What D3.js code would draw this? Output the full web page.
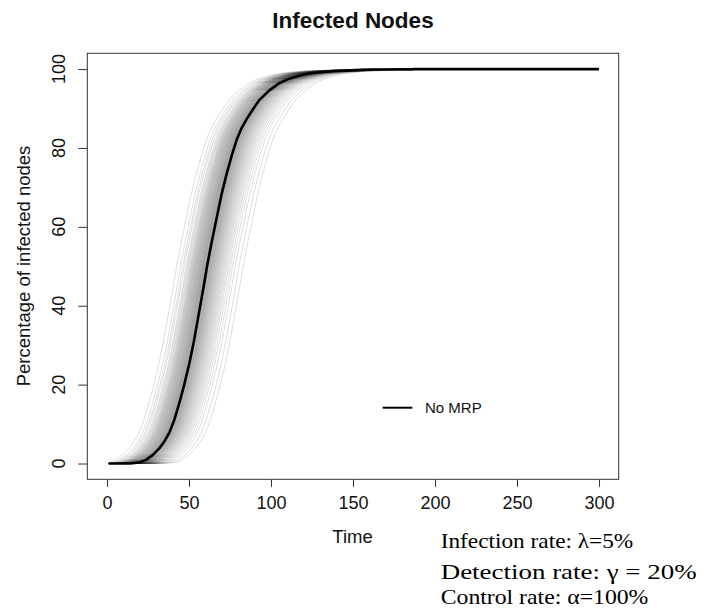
<!DOCTYPE html>
<html><head><meta charset="utf-8">
<script src="https://cdn.jsdelivr.net/npm/d3@7"></script>
<style>body{margin:0;background:#fff}svg{display:block}</style>
</head><body>
<script>
// ---- data ----
const title = "Infected Nodes";
const xLabel = "Time";
const yLabel = "Percentage of infected nodes";
const xTicks = [0, 50, 100, 150, 200, 250, 300];
const yTicks = [0, 20, 40, 60, 80, 100];
const legendLabel = "No MRP";
const notes = ["Infection rate: \u03bb=5%", "Detection rate: \u03b3 = 20%", "Control rate: \u03b1=100%"];

// mean curve (black)
const meanTime  = [1, 14, 20, 24, 28, 32, 35, 38, 41, 44, 47, 50, 53, 56, 59, 61, 64, 67, 70, 73, 76, 79, 82, 85, 89, 93, 99, 105, 110, 116, 122, 130, 138, 146, 155, 162, 186, 187, 300];
const meanValue = [0, 0, 0.3, 1.0, 2.2, 3.9, 5.6, 7.8, 11.0, 15.2, 19.8, 25.0, 31.0, 38.0, 45.0, 50.0, 56.5, 62.5, 68.5, 73.5, 78.0, 82.0, 85.0, 87.2, 89.8, 92.2, 94.6, 96.4, 97.4, 98.2, 98.8, 99.2, 99.5, 99.6, 99.8, 99.9, 99.9, 100, 100];

// individual simulation runs (grey): time shift of each run relative to the mean curve
const runShift = [-18.5, -16.2, -14.8, -13.9, -12.7, -12.1, -11.4, -10.9, -10.3, -9.8, -9.5, -9.1, -8.7, -8.4, -8.0, -7.8, -7.5, -7.1, -6.9, -6.6, -6.3, -6.1, -5.8, -5.5, -5.3, -5.0, -4.8, -4.6, -4.3, -4.1, -3.9, -3.6, -3.4, -3.2, -3.0, -2.8, -2.6, -2.4, -2.2, -2.0, -1.8, -1.6, -1.4, -1.2, -1.0, -0.8, -0.6, -0.4, -0.2, 0.0, 0.2, 0.4, 0.6, 0.8, 1.0, 1.2, 1.4, 1.7, 1.9, 2.1, 2.3, 2.6, 2.8, 3.0, 3.3, 3.5, 3.8, 4.0, 4.3, 4.6, 4.9, 5.2, 5.5, 5.8, 6.2, 6.5, 6.9, 7.3, 7.7, 8.1, 8.6, 9.1, 9.6, 10.2, 10.8, 11.5, 12.3, 13.2, 14.3, 15.6, 17.2, 19.5, 22.0];

// ---- layout ----
const W = 704, H = 615;
const box = {left: 87.3, right: 618.7, top: 53.3, bottom: 479.3};

const svg = d3.select("body").append("svg").attr("width", W).attr("height", H);
const x = d3.scaleLinear().domain([-12, 312]).range([box.left, box.right]);
const y = d3.scaleLinear().domain([-4, 104]).range([box.bottom, box.top]);

svg.append("defs").append("clipPath").attr("id", "clip")
  .append("rect").attr("x", box.left).attr("y", box.top)
  .attr("width", box.right - box.left).attr("height", box.bottom - box.top);

const line = d3.line().x(d => x(d[0])).y(d => y(d[1]));
const meanPts = meanTime.map((t, i) => [t, meanValue[i]]);

const runsG = svg.append("g").attr("clip-path", "url(#clip)");
runShift.forEach(s => {
  let pts = meanPts.map(d => [d[0] + s, d[1]]).filter(d => d[0] >= 1 && d[0] <= 300);
  if (pts[0][0] > 1) pts.unshift([1, 0]);
  if (pts[pts.length - 1][0] < 300) pts.push([300, 100]);
  runsG.append("path").attr("d", line(pts))
    .attr("fill", "none").attr("stroke", "#333").attr("stroke-opacity", 0.17).attr("stroke-width", 1);
});

svg.append("path").attr("d", line(meanPts))
  .attr("fill", "none").attr("stroke", "#000").attr("stroke-width", 2.6).attr("stroke-linejoin", "round");

// box
svg.append("rect").attr("x", box.left).attr("y", box.top)
  .attr("width", box.right - box.left).attr("height", box.bottom - box.top)
  .attr("fill", "none").attr("stroke", "#333").attr("stroke-width", 1);

const font = "'Liberation Sans', Arial, sans-serif";
// x axis
const xAxis = d3.axisBottom(x).tickValues(xTicks).tickSize(7.5).tickPadding(5);
const gx = svg.append("g").attr("transform", `translate(0,${box.bottom})`).call(xAxis);
gx.select(".domain").remove();
gx.selectAll("line").attr("stroke", "#333");
gx.selectAll("text").attr("font-family", font).attr("font-size", 18).attr("fill", "#111").attr("dy", "0.71em").attr("y", 17);

// y axis
const yAxis = d3.axisLeft(y).tickValues(yTicks).tickSize(9).tickPadding(0);
const gy = svg.append("g").attr("transform", `translate(${box.left},0)`).call(yAxis);
gy.select(".domain").remove();
gy.selectAll("line").attr("stroke", "#333");
gy.selectAll("text").remove();
yTicks.forEach(v => {
  svg.append("text").attr("transform", `translate(65,${y(v)}) rotate(-90)`)
    .attr("text-anchor", "middle").attr("font-family", font).attr("font-size", 18).attr("fill", "#111").text(v);
});

// title & labels
svg.append("text").attr("x", 353).attr("y", 27.7).attr("text-anchor", "middle")
  .attr("font-family", font).attr("font-weight", "bold").attr("font-size", 22.5).attr("fill", "#111").text(title);
svg.append("text").attr("x", 352.5).attr("y", 543.3).attr("text-anchor", "middle")
  .attr("font-family", font).attr("font-size", 18.5).attr("fill", "#111").text(xLabel);
svg.append("text").attr("transform", `translate(29.5,266) rotate(-90)`).attr("text-anchor", "middle")
  .attr("font-family", font).attr("font-size", 18.5).attr("fill", "#111").text(yLabel);

// legend
svg.append("line").attr("x1", 382.7).attr("x2", 412.3).attr("y1", 407.7).attr("y2", 407.7)
  .attr("stroke", "#000").attr("stroke-width", 2);
svg.append("text").attr("x", 425).attr("y", 413).attr("font-family", font).attr("font-size", 15).attr("fill", "#111").text(legendLabel);

// notes
const noteBase = [548.3, 579, 604.3];
const noteW = [192.6, 256, 207.7];
notes.forEach((t, i) => {
  svg.append("text").attr("x", 440.7).attr("y", noteBase[i])
    .attr("font-family", "'Liberation Serif', 'Times New Roman', serif").attr("font-size", 21.5)
    .attr("textLength", noteW[i]).attr("lengthAdjust", "spacingAndGlyphs").attr("fill", "#000").text(t);
});
</script>
</body></html>
